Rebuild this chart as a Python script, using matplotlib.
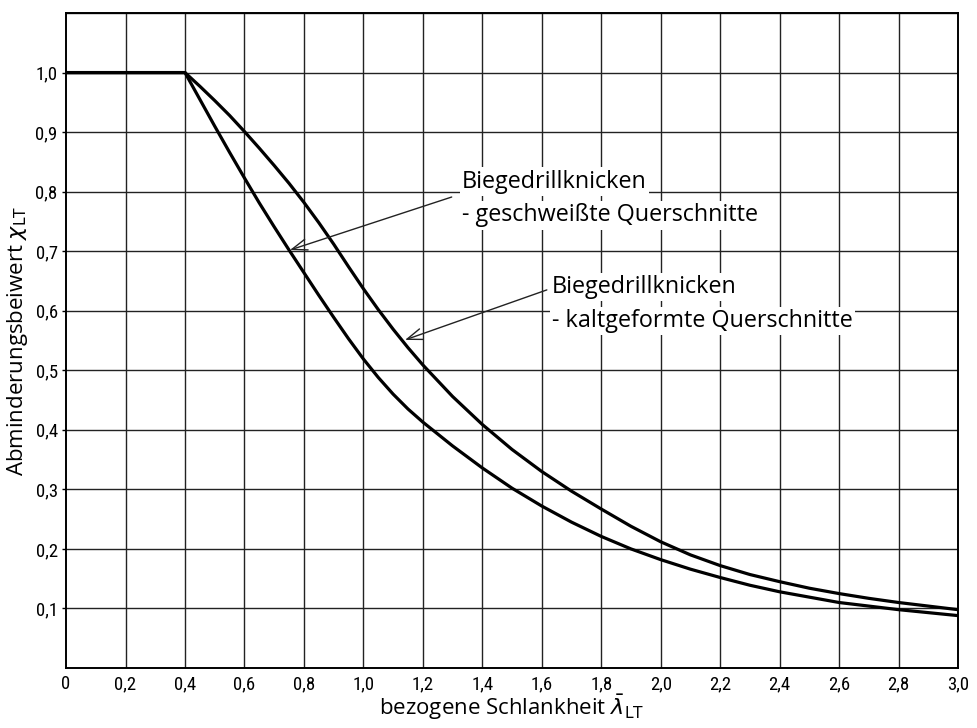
import numpy as np
import matplotlib
matplotlib.use("Agg")
import matplotlib.pyplot as plt
from matplotlib import font_manager

# values
lam_welded = [0.0, 0.4, 0.45, 0.5, 0.55, 0.6, 0.65, 0.7, 0.75, 0.8, 0.85, 0.9, 0.95, 1.0,
              1.05, 1.1, 1.15, 1.2, 1.3, 1.4, 1.5, 1.6, 1.7, 1.8, 1.9, 2.0, 2.1, 2.2,
              2.3, 2.4, 2.5, 2.6, 2.7, 2.8, 2.9, 3.0]
chi_welded = [1.0, 1.0, 0.955, 0.910, 0.866, 0.823, 0.781, 0.741, 0.702, 0.664, 0.626, 0.589,
              0.553, 0.519, 0.488, 0.460, 0.435, 0.413, 0.373, 0.336, 0.302, 0.272, 0.245,
              0.221, 0.200, 0.182, 0.166, 0.152, 0.139, 0.128, 0.119, 0.110, 0.104, 0.098,
              0.093, 0.088]

lam_cold = [0.0, 0.4, 0.45, 0.5, 0.55, 0.6, 0.65, 0.7, 0.75, 0.8, 0.85, 0.9, 0.95, 1.0,
            1.05, 1.1, 1.15, 1.2, 1.3, 1.4, 1.5, 1.6, 1.7, 1.8, 1.9, 2.0, 2.1, 2.2,
            2.3, 2.4, 2.5, 2.6, 2.7, 2.8, 2.9, 3.0]
chi_cold = [1.0, 1.0, 0.977, 0.953, 0.928, 0.901, 0.873, 0.844, 0.814, 0.782, 0.748, 0.712,
            0.674, 0.637, 0.602, 0.569, 0.538, 0.509, 0.456, 0.409, 0.367, 0.330, 0.297,
            0.267, 0.238, 0.212, 0.190, 0.172, 0.157, 0.145, 0.134, 0.125, 0.117, 0.110,
            0.104, 0.098]

x_ticks = [0.0, 0.2, 0.4, 0.6, 0.8, 1.0, 1.2, 1.4, 1.6, 1.8, 2.0, 2.2, 2.4, 2.6, 2.8, 3.0]
x_labels = ["0", "0,2", "0,4", "0,6", "0,8", "1,0", "1,2", "1,4", "1,6", "1,8",
            "2,0", "2,2", "2,4", "2,6", "2,8", "3,0"]
y_ticks = [0.1, 0.2, 0.3, 0.4, 0.5, 0.6, 0.7, 0.8, 0.9, 1.0]
y_labels = ["0,1", "0,2", "0,3", "0,4", "0,5", "0,6", "0,7", "0,8", "0,9", "1,0"]

label_welded = ["Biegedrillknicken", "- geschweißte Querschnitte"]
label_cold = ["Biegedrillknicken", "- kaltgeformte Querschnitte"]

plt.rcParams['font.family'] = ['Open Sans', 'DejaVu Sans']
plt.rcParams['mathtext.fontset'] = 'dejavusans'

# narrow font for tick labels, if one is installed
installed = {f.name for f in font_manager.fontManager.ttflist}
narrow = 'Liberation Sans'
for name in ['Liberation Sans Narrow', 'Roboto Condensed', 'Open Sans Condensed']:
    if name in installed:
        narrow = name
        break

fig = plt.figure(figsize=(9.77, 7.28), dpi=100)
ax = fig.add_axes([0.0676, 0.0824, 0.913, 0.8997])

# grid
for v in x_ticks[1:-1]:
    ax.axvline(v, color='#222222', lw=1.0, zorder=1)
for v in y_ticks + [1.1]:
    ax.axhline(v, color='#222222', lw=1.0, zorder=1)

ax.plot(lam_welded, chi_welded, color='black', lw=2.3, zorder=3, solid_joinstyle='round')
ax.plot(lam_cold, chi_cold, color='black', lw=2.3, zorder=3, solid_joinstyle='round')

ax.set_xlim(0, 3.0)
ax.set_ylim(0, 1.1)
ax.set_xticks(x_ticks)
ax.set_xticklabels(x_labels)
ax.set_yticks(y_ticks)
ax.set_yticklabels(y_labels)
for lab in ax.get_xticklabels() + ax.get_yticklabels():
    lab.set_family([narrow, 'DejaVu Sans'])
    lab.set_fontsize(13.5)
ax.tick_params(axis='x', length=0, pad=5)
ax.tick_params(axis='y', length=3, width=1, pad=3)
for s in ax.spines.values():
    s.set_linewidth(1.4)

ax.set_xlabel(r'bezogene Schlankheit $\bar{\lambda}_{\mathrm{LT}}$', fontsize=16)
ax.set_ylabel(r'Abminderungsbeiwert $\chi_{\mathrm{LT}}$', fontsize=16)
ax.xaxis.set_label_coords(0.5, -0.037)
ax.yaxis.set_label_coords(-0.040, 0.5)

# annotations
box = dict(facecolor='white', edgecolor='none', pad=1.5)
ax.text(1.331, 0.817, label_welded[0], fontsize=16.8, ha='left', va='center', bbox=box, zorder=4)
ax.text(1.331, 0.760, label_welded[1], fontsize=16.8, ha='left', va='center', bbox=box, zorder=4)
ax.text(1.634, 0.640, label_cold[0], fontsize=16.8, ha='left', va='center', bbox=box, zorder=4)
ax.text(1.634, 0.583, label_cold[1], fontsize=16.8, ha='left', va='center', bbox=box, zorder=4)

arrow = dict(arrowstyle='->,head_length=1.1,head_width=0.4', color='#222222', lw=1.0,
             shrinkA=0, shrinkB=0)
ax.annotate('', xy=(0.753, 0.702), xytext=(1.297, 0.791), arrowprops=arrow, zorder=5)
ax.annotate('', xy=(1.140, 0.551), xytext=(1.617, 0.635), arrowprops=arrow, zorder=5)

fig.savefig('out.png', dpi=100)
